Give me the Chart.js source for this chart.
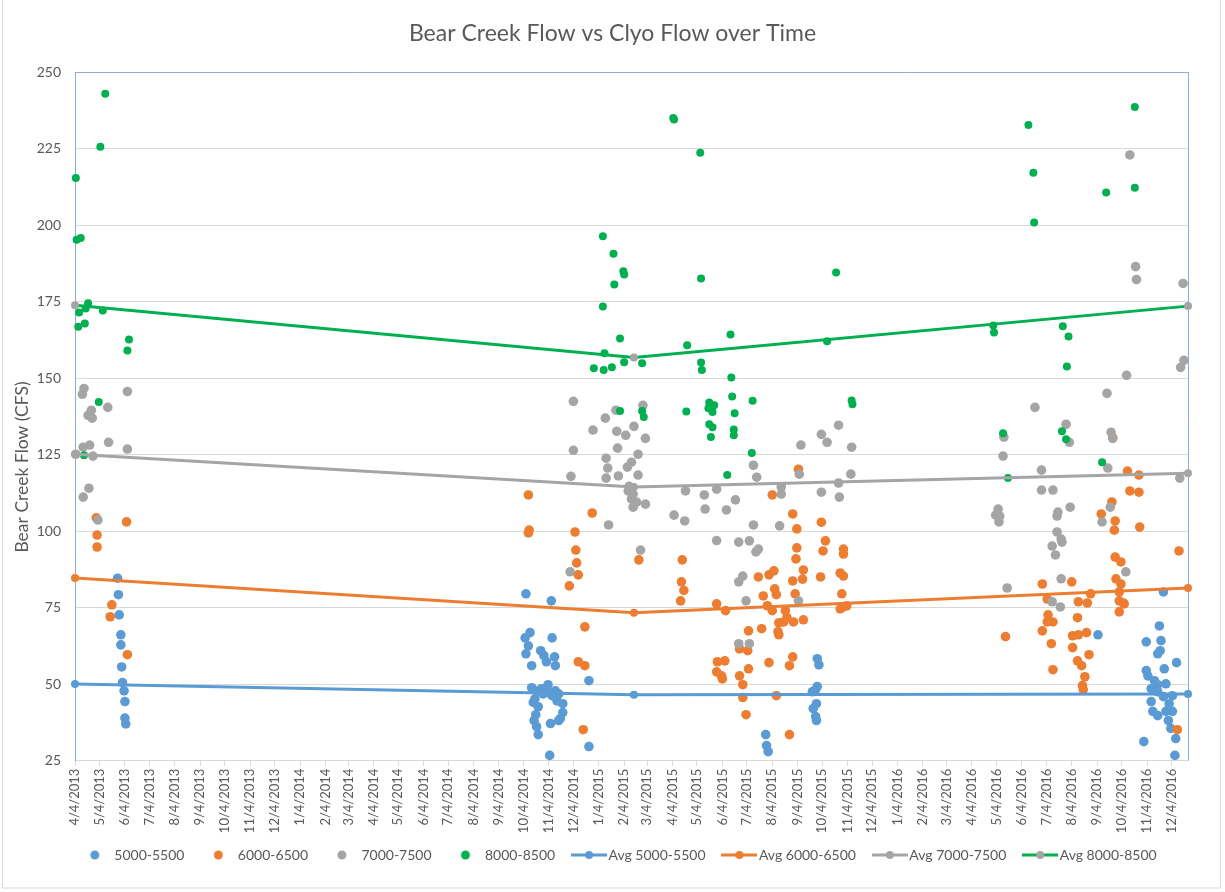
<!DOCTYPE html>
<html>
<head>
<meta charset="utf-8">
<title>Bear Creek Flow vs Clyo Flow over Time</title>
<script src="https://cdn.jsdelivr.net/npm/chart.js@4.4.1/dist/chart.umd.min.js"></script>
<style>
  html, body { margin: 0; padding: 0; background: #fff; }
  #wrap { position: relative; width: 1225px; height: 892px; }
</style>
</head>
<body>
<div id="wrap"><canvas id="flowChart" width="1225" height="892"></canvas></div>
<script>
// Tick labels on the date axis (one per month, on the 4th)
const tickLabels = [
  '4/4/2013', '5/4/2013', '6/4/2013', '7/4/2013', '8/4/2013', '9/4/2013', '10/4/2013', '11/4/2013', '12/4/2013',
  '1/4/2014', '2/4/2014', '3/4/2014', '4/4/2014', '5/4/2014', '6/4/2014', '7/4/2014', '8/4/2014', '9/4/2014', '10/4/2014', '11/4/2014', '12/4/2014',
  '1/4/2015', '2/4/2015', '3/4/2015', '4/4/2015', '5/4/2015', '6/4/2015', '7/4/2015', '8/4/2015', '9/4/2015', '10/4/2015', '11/4/2015', '12/4/2015',
  '1/4/2016', '2/4/2016', '3/4/2016', '4/4/2016', '5/4/2016', '6/4/2016', '7/4/2016', '8/4/2016', '9/4/2016', '10/4/2016', '11/4/2016', '12/4/2016'
];
const yTicks = [25, 50, 75, 100, 125, 150, 175, 200, 225, 250];

// Bear Creek flow readings, grouped by Clyo flow band: [date, CFS]
const flow5000 = [
  ['2013-05-26', 84.6], ['2013-05-27', 79.2], ['2013-05-28', 72.6], ['2013-05-30', 66.1], ['2013-05-30', 62.8], ['2013-05-31', 55.6],
  ['2013-06-01', 50.5], ['2013-06-03', 47.8], ['2013-06-04', 44.3], ['2013-06-04', 38.9], ['2013-06-05', 37.0],
  ['2014-10-07', 79.5], ['2014-11-07', 77.2], ['2014-11-08', 65.1], ['2014-10-12', 66.8], ['2014-10-06', 65.1], ['2014-10-10', 62.5],
  ['2014-10-07', 59.9], ['2014-10-14', 56.0], ['2014-10-25', 60.9], ['2014-10-29', 59.3], ['2014-11-01', 57.3], ['2014-11-11', 58.9],
  ['2014-11-12', 56.0], ['2014-12-23', 51.1], ['2014-10-14', 48.8], ['2014-10-22', 47.8], ['2014-11-03', 49.8], ['2014-11-12', 47.8],
  ['2014-10-18', 45.2], ['2014-10-28', 46.8], ['2014-11-08', 46.2], ['2014-11-16', 46.8], ['2014-10-22', 42.6], ['2014-11-21', 43.6],
  ['2014-11-21', 40.7], ['2014-11-18', 38.7], ['2014-10-17', 38.1], ['2014-10-20', 36.1], ['2014-10-22', 33.5], ['2014-11-06', 37.1],
  ['2014-11-16', 38.1], ['2014-12-23', 29.6], ['2014-11-05', 26.7], ['2014-10-26', 48.5], ['2014-11-04', 47.2], ['2014-10-16', 44.0],
  ['2014-11-14', 44.5], ['2014-10-19', 40.0],
  ['2015-09-28', 58.3], ['2015-09-30', 56.3], ['2015-09-26', 48.2], ['2015-09-28', 49.2], ['2015-09-22', 47.5], ['2015-09-27', 43.6],
  ['2015-09-23', 42.0], ['2015-09-26', 39.4], ['2015-09-27', 38.1], ['2015-07-27', 33.5], ['2015-07-28', 29.9], ['2015-07-30', 27.9],
  ['2016-11-24', 80.1], ['2016-09-05', 66.1], ['2016-11-19', 69.0], ['2016-11-21', 64.2], ['2016-11-03', 63.8], ['2016-11-17', 59.9],
  ['2016-11-20', 60.9], ['2016-11-25', 55.0], ['2016-12-10', 57.0], ['2016-11-03', 54.4], ['2016-11-05', 52.7], ['2016-11-13', 51.1],
  ['2016-11-17', 49.8], ['2016-11-27', 50.1], ['2016-11-09', 48.5], ['2016-11-17', 47.5], ['2016-12-05', 46.2], ['2016-12-01', 43.6],
  ['2016-11-24', 45.9], ['2016-11-09', 44.3], ['2016-11-11', 41.1], ['2016-11-17', 39.7], ['2016-11-27', 41.1], ['2016-12-05', 41.1],
  ['2016-11-30', 38.1], ['2016-12-03', 35.5], ['2016-12-09', 32.2], ['2016-10-31', 31.2], ['2016-12-08', 26.7]
];

const flow6000 = [
  ['2013-04-30', 104.3], ['2013-05-01', 98.7], ['2013-05-01', 94.8], ['2013-06-06', 103.0], ['2013-05-19', 75.9], ['2013-05-17', 72.0],
  ['2013-06-07', 59.6],
  ['2014-10-10', 111.8], ['2014-10-11', 100.3], ['2014-10-10', 99.4], ['2014-12-27', 105.9], ['2014-12-06', 99.7], ['2014-12-07', 93.8],
  ['2014-12-08', 89.6], ['2014-12-10', 85.7], ['2014-11-29', 82.1], ['2015-02-22', 90.6], ['2014-12-18', 68.7], ['2014-12-10', 57.3],
  ['2014-12-18', 56.0], ['2014-12-16', 35.1],
  ['2015-04-16', 90.6], ['2015-04-15', 83.4], ['2015-04-18', 80.6], ['2015-04-14', 77.2], ['2015-05-28', 76.2], ['2015-06-08', 74.0],
  ['2015-07-18', 85.0], ['2015-07-31', 85.7], ['2015-08-06', 87.0], ['2015-07-24', 78.8], ['2015-08-07', 81.1], ['2015-08-09', 79.2],
  ['2015-07-29', 75.6], ['2015-08-04', 74.0], ['2015-08-20', 74.0], ['2015-08-22', 71.7], ['2015-08-12', 70.0], ['2015-08-18', 70.3],
  ['2015-08-30', 70.3], ['2015-09-11', 71.0], ['2015-09-01', 79.5], ['2015-08-29', 83.7], ['2015-09-10', 84.3], ['2015-09-11', 87.3],
  ['2015-09-02', 90.9], ['2015-09-03', 94.5], ['2015-08-29', 105.6], ['2015-09-03', 100.7], ['2015-09-05', 120.2], ['2015-08-04', 111.8],
  ['2015-10-03', 102.9], ['2015-10-08', 96.8], ['2015-10-05', 93.5], ['2015-10-02', 85.0], ['2015-10-30', 94.1], ['2015-10-30', 92.5],
  ['2015-10-26', 86.3], ['2015-10-30', 85.3], ['2015-10-28', 79.5], ['2015-10-26', 74.6], ['2015-10-30', 75.2], ['2015-11-03', 75.6],
  ['2015-07-06', 67.4], ['2015-07-22', 68.1], ['2015-08-11', 67.1], ['2015-08-12', 66.1], ['2015-06-25', 61.5], ['2015-07-05', 60.9],
  ['2015-05-29', 57.3], ['2015-06-07', 57.6], ['2015-05-28', 54.0], ['2015-06-03', 52.7], ['2015-06-04', 51.7], ['2015-06-25', 52.7],
  ['2015-07-06', 55.0], ['2015-06-29', 49.8], ['2015-07-31', 57.0], ['2015-08-29', 58.9], ['2015-08-25', 56.0], ['2015-06-29', 45.6],
  ['2015-07-03', 40.0], ['2015-08-09', 46.2], ['2015-08-25', 33.5],
  ['2016-10-11', 119.6], ['2016-10-25', 118.3], ['2016-10-14', 113.1], ['2016-10-25', 112.7], ['2016-10-26', 101.3], ['2016-09-22', 109.5],
  ['2016-09-09', 105.6], ['2016-09-26', 103.3], ['2016-09-25', 100.3], ['2016-12-13', 93.5], ['2016-09-26', 91.5], ['2016-10-03', 89.9],
  ['2016-09-27', 84.4], ['2016-10-03', 82.7], ['2016-10-01', 80.1], ['2016-10-06', 76.5], ['2016-10-01', 73.6], ['2016-10-01', 77.2],
  ['2016-10-07', 76.2], ['2016-06-29', 82.7], ['2016-08-04', 83.4], ['2016-07-05', 77.8], ['2016-08-12', 76.9], ['2016-08-23', 76.5],
  ['2016-08-27', 79.5], ['2016-07-06', 72.6], ['2016-07-12', 70.3], ['2016-07-05', 70.3], ['2016-08-11', 71.7], ['2016-06-29', 67.4],
  ['2016-07-10', 63.2], ['2016-07-12', 54.7], ['2016-05-15', 65.5], ['2016-08-05', 65.8], ['2016-08-12', 66.1], ['2016-08-22', 66.8],
  ['2016-08-05', 61.9], ['2016-08-25', 59.6], ['2016-08-11', 57.6], ['2016-08-16', 56.0], ['2016-08-20', 52.4], ['2016-08-17', 49.5],
  ['2016-08-18', 48.2], ['2016-12-11', 35.1], ['2016-09-23', 130.5]
];

const flow7000 = [
  ['2013-04-15', 146.6], ['2013-04-13', 144.7], ['2013-06-07', 145.6], ['2013-04-24', 139.5], ['2013-04-20', 137.8], ['2013-04-25', 136.9],
  ['2013-05-14', 140.4], ['2013-04-14', 127.4], ['2013-04-22', 128.1], ['2013-05-15', 129.0], ['2013-06-07', 126.8], ['2013-04-05', 125.1],
  ['2013-04-26', 124.5], ['2013-04-21', 114.0], ['2013-04-14', 111.1], ['2013-05-02', 103.6],
  ['2014-12-04', 142.4], ['2015-01-25', 139.5], ['2015-02-27', 141.1], ['2015-01-12', 136.9], ['2015-02-16', 134.2], ['2014-12-28', 133.0],
  ['2015-01-26', 132.6], ['2015-02-06', 131.3], ['2015-03-02', 130.3], ['2014-12-04', 126.4], ['2015-01-27', 127.1], ['2015-02-21', 125.1],
  ['2015-01-13', 123.8], ['2015-01-15', 120.6], ['2015-02-13', 122.5], ['2015-02-08', 120.9], ['2014-12-01', 117.9], ['2015-01-13', 117.3],
  ['2015-01-28', 118.0], ['2015-02-21', 118.3], ['2015-02-10', 114.6], ['2015-02-09', 113.1], ['2015-02-15', 112.1], ['2015-02-13', 110.5],
  ['2015-02-19', 109.5], ['2015-03-02', 108.8], ['2015-02-15', 107.8], ['2015-01-16', 102.0], ['2015-02-24', 93.8], ['2014-11-30', 86.7],
  ['2015-07-12', 121.5], ['2015-07-16', 117.6], ['2015-09-08', 128.1], ['2015-10-03', 131.6], ['2015-10-10', 129.0], ['2015-10-24', 134.6],
  ['2015-11-09', 127.4], ['2015-11-08', 118.6], ['2015-10-25', 111.1], ['2015-10-24', 115.7], ['2015-10-03', 112.7], ['2015-09-06', 118.6],
  ['2015-08-15', 114.4], ['2015-08-15', 112.1], ['2015-05-28', 113.7], ['2015-04-20', 113.1], ['2015-05-13', 111.8], ['2015-06-20', 110.2],
  ['2015-05-14', 107.2], ['2015-06-09', 106.9], ['2015-04-06', 105.2], ['2015-04-19', 103.3], ['2015-07-12', 102.0], ['2015-08-13', 101.7],
  ['2015-05-28', 96.9], ['2015-06-24', 96.4], ['2015-07-07', 96.8], ['2015-07-18', 94.1], ['2015-07-15', 93.2], ['2015-06-29', 85.3],
  ['2015-06-24', 83.4], ['2015-07-03', 77.2], ['2015-09-05', 77.2], ['2015-06-24', 63.2], ['2015-07-07', 63.2],
  ['2016-10-14', 222.9], ['2016-10-21', 186.4], ['2016-10-22', 182.2], ['2016-12-18', 180.9], ['2016-12-19', 155.8], ['2016-12-15', 153.5],
  ['2016-10-10', 150.9], ['2016-09-16', 145.0], ['2016-06-20', 140.4], ['2016-05-13', 130.7], ['2016-05-12', 124.5], ['2016-07-28', 134.9],
  ['2016-08-01', 129.0], ['2016-09-21', 132.3], ['2016-09-23', 130.3], ['2016-06-28', 119.9], ['2016-09-17', 120.6], ['2016-06-28', 113.4],
  ['2016-07-12', 113.4], ['2016-12-14', 117.3], ['2016-08-02', 107.8], ['2016-07-18', 106.2], ['2016-07-17', 104.9], ['2016-05-06', 107.2],
  ['2016-05-08', 104.9], ['2016-05-03', 105.2], ['2016-05-07', 103.0], ['2016-07-17', 99.7], ['2016-07-22', 97.4], ['2016-07-11', 95.1],
  ['2016-07-23', 96.4], ['2016-07-15', 92.2], ['2016-09-20', 107.8], ['2016-09-10', 103.0], ['2016-10-09', 86.7], ['2016-07-22', 84.4],
  ['2016-05-17', 81.4], ['2016-07-11', 76.9], ['2016-07-21', 75.2]
];

const flow8000 = [
  ['2013-05-11', 242.9], ['2013-05-05', 225.6], ['2013-04-05', 215.4], ['2013-04-06', 195.2], ['2013-04-11', 195.8], ['2013-04-20', 174.4],
  ['2013-04-17', 172.7], ['2013-04-09', 171.4], ['2013-05-08', 172.1], ['2013-04-08', 166.8], ['2013-04-16', 167.8], ['2013-06-09', 162.6],
  ['2013-06-07', 159.0], ['2013-05-03', 142.2], ['2013-04-15', 124.8],
  ['2015-01-09', 196.3], ['2015-01-22', 190.6], ['2015-02-03', 184.9], ['2015-02-04', 183.8], ['2015-01-23', 180.6], ['2015-01-09', 173.4],
  ['2015-01-30', 162.9], ['2015-01-11', 158.1], ['2015-02-04', 155.2], ['2015-02-26', 154.8], ['2014-12-29', 153.2], ['2015-01-10', 152.6],
  ['2015-01-20', 153.5], ['2015-01-30', 139.2], ['2015-02-26', 139.2], ['2015-02-28', 137.3],
  ['2015-04-05', 235.0], ['2015-04-06', 234.5], ['2015-05-08', 223.6], ['2015-05-09', 182.5], ['2015-10-21', 184.5], ['2015-04-22', 160.7],
  ['2015-06-14', 164.2], ['2015-10-10', 162.0], ['2015-05-09', 155.1], ['2015-05-10', 152.6], ['2015-06-15', 150.2], ['2015-06-16', 144.0],
  ['2015-07-11', 142.6], ['2015-11-09', 142.7], ['2015-11-10', 141.4], ['2015-04-21', 139.1], ['2015-05-19', 142.0], ['2015-05-25', 141.1],
  ['2015-05-18', 140.1], ['2015-05-23', 138.9], ['2015-05-21', 140.5], ['2015-06-19', 138.5], ['2015-05-19', 134.9], ['2015-05-23', 133.9],
  ['2015-06-18', 133.2], ['2015-05-21', 130.7], ['2015-06-18', 131.3], ['2015-07-10', 125.5], ['2015-06-10', 118.3],
  ['2016-04-30', 167.2], ['2016-05-01', 164.9], ['2016-07-24', 166.9], ['2016-07-31', 163.6], ['2016-07-29', 153.8], ['2016-05-12', 132.0],
  ['2016-07-23', 132.6], ['2016-07-28', 130.0], ['2016-09-10', 122.5], ['2016-05-18', 117.3], ['2016-06-12', 232.7], ['2016-06-18', 217.1],
  ['2016-06-19', 200.8], ['2016-10-20', 238.6], ['2016-10-20', 212.2], ['2016-09-15', 210.6]
];

// Average of each band: first date, middle date, last date
const avgDates = ['2013-04-04', '2015-02-16', '2016-12-24'];
const avg5000 = [50.0, 46.5, 46.8];
const avg6000 = [84.7, 73.3, 81.4];
const avg7000 = [125.1, 114.4, 118.9];
const avg8000 = [173.8, 156.7, 173.5];

const BLUE = '#5B9BD5', ORANGE = '#ED7D31', GRAY = '#A5A5A5', GREEN = '#00B050';
const TEXT = '#595959';
const FONT = 'Lato, "Open Sans", sans-serif';

// Date helpers
function isoTime(s) {
  const [y, m, d] = s.split('-').map(Number);
  return Date.UTC(y, m - 1, d);
}
function usTime(s) {
  const [m, d, y] = s.split('/').map(Number);
  return Date.UTC(y, m - 1, d);
}
const tickTimes = tickLabels.map(usTime);

function toPoints(rows) {
  return rows.map(r => ({ x: isoTime(r[0]), y: r[1] }));
}
function avgPoints(values) {
  return values.map((v, i) => ({ x: isoTime(avgDates[i]), y: v }));
}

// Legend icons (dot for readings, line + dot for averages)
function dotIcon(color) {
  const c = document.createElement('canvas');
  c.width = 14; c.height = 14;
  const g = c.getContext('2d');
  g.fillStyle = color;
  g.beginPath(); g.arc(7, 7, 4.5, 0, Math.PI * 2); g.fill();
  return c;
}
function lineIcon(lineColor, dotColor) {
  const c = document.createElement('canvas');
  c.width = 36; c.height = 12;
  const g = c.getContext('2d');
  g.strokeStyle = lineColor; g.lineWidth = 3;
  g.beginPath(); g.moveTo(0, 6); g.lineTo(36, 6); g.stroke();
  g.fillStyle = dotColor;
  g.beginPath(); g.arc(18, 6, 4, 0, Math.PI * 2); g.fill();
  return c;
}

function scatterSet(label, rows, color, radius) {
  return {
    label, data: toPoints(rows), backgroundColor: color, borderWidth: 0,
    pointRadius: radius, pointHoverRadius: radius, showLine: false, clip: 10,
    legendIcon: dotIcon(color)
  };
}
function avgSet(label, values, color, markerColor) {
  return {
    label, data: avgPoints(values), borderColor: color, backgroundColor: markerColor,
    borderWidth: 3, pointRadius: 4, pointBorderWidth: 0, pointBackgroundColor: markerColor,
    showLine: true, tension: 0, clip: 10, legendIcon: lineIcon(color, markerColor)
  };
}

const datasets = [
  scatterSet('5000-5500', flow5000, BLUE, 4.8),
  scatterSet('6000-6500', flow6000, ORANGE, 4.8),
  scatterSet('7000-7500', flow7000, GRAY, 4.8),
  scatterSet('8000-8500', flow8000, GREEN, 4),
  avgSet('Avg 5000-5500', avg5000, BLUE, BLUE),
  avgSet('Avg 6000-6500', avg6000, ORANGE, ORANGE),
  avgSet('Avg 7000-7500', avg7000, GRAY, GRAY),
  avgSet('Avg 8000-8500', avg8000, GREEN, GRAY)
];
// later series drawn on top, like the original
datasets.forEach((ds, i) => { ds.order = datasets.length - i; });

// Centre title and legend on the whole canvas, lift the legend a little
const placePlugin = {
  id: 'place',
  afterLayout(chart) {
    if (chart.titleBlock) { chart.titleBlock.left = 0; chart.titleBlock.right = chart.width; }
    if (chart.legend) {
      chart.legend.left += 7;
      chart.legend.right = chart.width + 7;
      chart.legend.top -= 9;
      chart.legend.bottom -= 9;
    }
  }
};

// Plot frame (blue top/right edges), y axis title and outer chart border
const framePlugin = {
  id: 'frame',
  beforeDatasetsDraw(chart) {
    const { ctx, chartArea: a } = chart;
    ctx.save();
    ctx.strokeStyle = '#8EAADB';
    ctx.lineWidth = 1;
    ctx.beginPath();
    ctx.moveTo(a.left + 0.5, a.top + 0.5);
    ctx.lineTo(a.right + 0.5, a.top + 0.5);
    ctx.lineTo(a.right + 0.5, a.bottom);
    ctx.stroke();
    ctx.restore();
  },
  afterDraw(chart) {
    const { ctx } = chart;
    ctx.save();
    ctx.translate(22, 467);
    ctx.rotate(-Math.PI / 2);
    ctx.fillStyle = TEXT;
    ctx.font = '17.5px ' + FONT;
    ctx.textAlign = 'center';
    ctx.textBaseline = 'middle';
    ctx.fillText('Bear Creek Flow (CFS)', 0, 0);
    ctx.restore();

    ctx.save();
    ctx.strokeStyle = '#D9D9D9';
    ctx.lineWidth = 1;
    ctx.strokeRect(2.5, -1, 1218, 889);
    ctx.restore();
  }
};

const ctx = document.getElementById('flowChart').getContext('2d');
const chart = new Chart(ctx, {
  type: 'scatter',
  data: { datasets },
  options: {
    responsive: false,
    devicePixelRatio: 1,
    animation: false,
    layout: { padding: { left: 0, right: 37, top: 0, bottom: 11 } },
    plugins: {
      title: {
        display: true,
        text: 'Bear Creek Flow vs Clyo Flow over Time',
        color: TEXT,
        font: { family: FONT, size: 23, weight: 'normal' },
        padding: { top: 20, bottom: 24.4 }
      },
      legend: {
        position: 'bottom',
        labels: {
          usePointStyle: true,
          pointStyleWidth: 25,
          padding: 21.4,
          color: TEXT,
          font: { family: FONT, size: 14 },
          generateLabels: c => c.data.datasets.map((ds, i) => ({
            text: ds.label,
            pointStyle: ds.legendIcon,
            fillStyle: ds.backgroundColor,
            strokeStyle: 'rgba(0,0,0,0)',
            lineWidth: 0,
            fontColor: TEXT,
            hidden: false,
            datasetIndex: i
          }))
        }
      },
      tooltip: { enabled: false }
    },
    scales: {
      x: {
        type: 'linear',
        min: isoTime(avgDates[0]),
        max: isoTime(avgDates[avgDates.length - 1]),
        afterBuildTicks: scale => { scale.ticks = tickTimes.map(v => ({ value: v })); },
        afterFit: scale => { scale.height = 75; },
        ticks: {
          autoSkip: false,
          minRotation: 90,
          maxRotation: 90,
          padding: 3,
          color: TEXT,
          font: { family: FONT, size: 13 },
          callback: (value, index) => tickLabels[index]
        },
        grid: { drawOnChartArea: false, drawTicks: true, tickLength: 5, color: '#D9D9D9' },
        border: { color: '#D9D9D9' }
      },
      y: {
        min: yTicks[0],
        max: yTicks[yTicks.length - 1],
        afterBuildTicks: scale => { scale.ticks = yTicks.map(v => ({ value: v })); },
        afterFit: scale => { scale.width = 75; },
        ticks: {
          padding: 14,
          color: TEXT,
          font: { family: FONT, size: 14 }
        },
        grid: { color: '#D9D9D9', drawTicks: false },
        border: { color: '#8EAADB' }
      }
    }
  },
  plugins: [placePlugin, framePlugin]
});
</script>
</body>
</html>
